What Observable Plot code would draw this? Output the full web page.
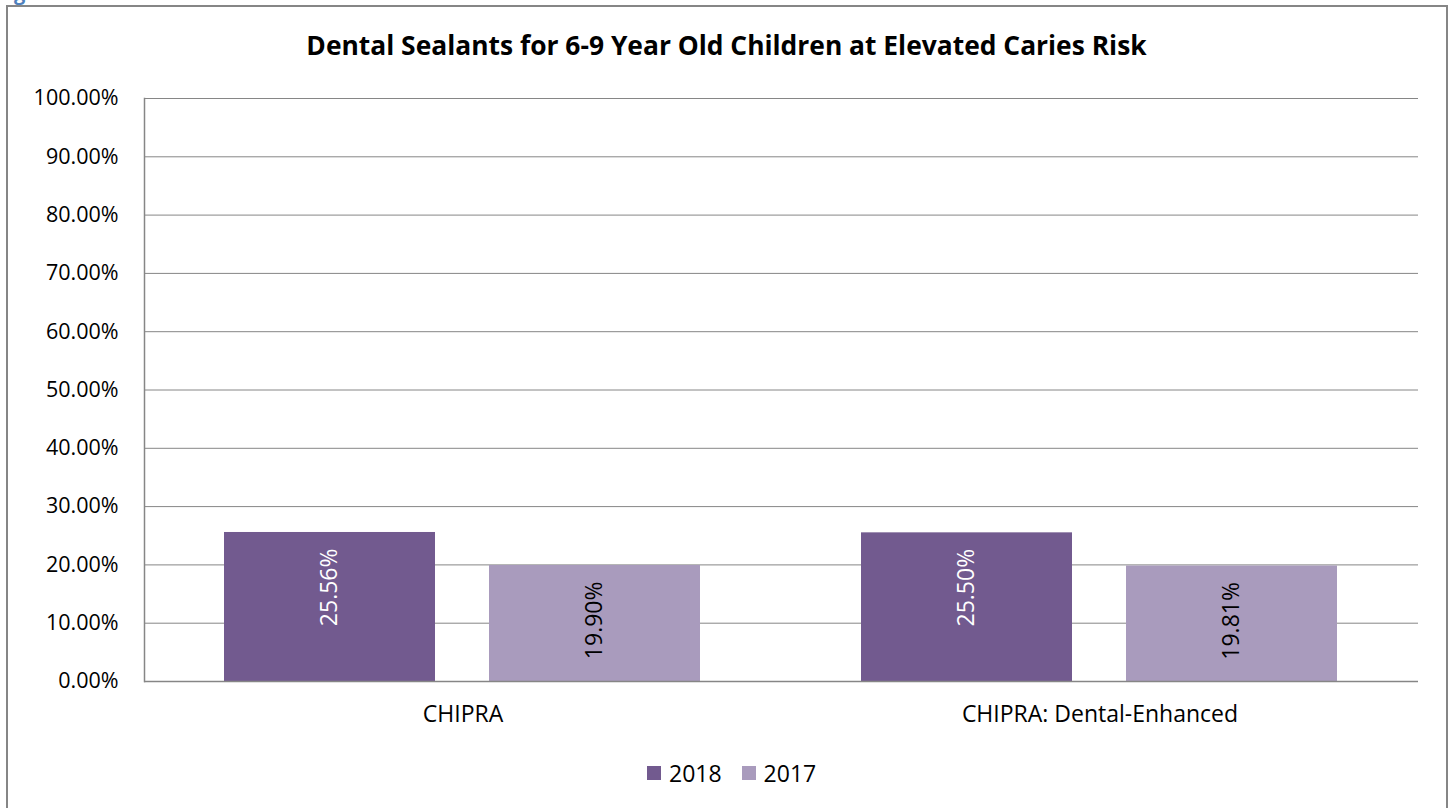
<!DOCTYPE html>
<html><head><meta charset="utf-8">
<script src="https://cdn.jsdelivr.net/npm/d3@7"></script>
<script src="https://cdn.jsdelivr.net/npm/@observablehq/plot@0.6"></script>
<style>
body{margin:0;width:1453px;height:808px;position:relative;overflow:hidden;background:#fff;font-family:"Open Sans",sans-serif;color:#000;}
#frame{position:absolute;left:6px;top:5px;width:1442px;height:830px;box-sizing:border-box;border:2px solid #868686;}
#frag{position:absolute;left:14px;top:-19px;color:#4f81bd;font-weight:bold;font-size:20px;line-height:24px;}
#title{position:absolute;left:0;top:28px;width:1453px;text-align:center;font-weight:bold;font-size:26.4px;line-height:34px;}
#chart{position:absolute;left:0;top:80px;}
#legend{position:absolute;left:647px;top:757px;height:32px;display:flex;align-items:center;font-size:23px;}
#legend .sw{width:14px;height:14px;display:inline-block;margin-right:8px;}
#legend .item{display:flex;align-items:center;margin-right:20px;}
</style></head>
<body>
<div id="frag">g</div>
<div id="frame"></div>
<div id="title">Dental Sealants for 6-9 Year Old Children at Elevated Caries Risk</div>
<div id="chart"></div>
<div id="legend"></div>
<script>
const categories = ["CHIPRA", "CHIPRA: Dental-Enhanced"];
const years = ["2018", "2017"];
const values2018 = [0.2556, 0.2550];
const values2017 = [0.1990, 0.1981];
const colors = ["#725a8f", "#a99bbd"];
const yTicks = [0, 0.1, 0.2, 0.3, 0.4, 0.5, 0.6, 0.7, 0.8, 0.9, 1.0];

const data = [];
categories.forEach((c, i) => {
  data.push({category: c, year: "2018", value: values2018[i]});
  data.push({category: c, year: "2017", value: values2017[i]});
});
const pct = d3.format(".2%");
const grey = "#868686";

const chart = Plot.plot({
  width: 1453, height: 661,
  marginTop: 18, marginLeft: 143, marginRight: 35, marginBottom: 60,
  style: {fontFamily: "Open Sans", color: "#000", background: "transparent"},
  fx: {domain: categories, padding: 0, label: null},
  x: {domain: years, axis: null, paddingInner: 0.203, paddingOuter: 0.3},
  y: {domain: [0, 1], axis: null},
  color: {domain: years, range: colors},
  marks: [
    Plot.gridY(yTicks, {stroke: grey, strokeOpacity: 1, strokeWidth: 1}),
    Plot.barY(data, {fx: "category", x: "year", y: "value", fill: "year"}),
    Plot.ruleY([0], {stroke: grey, strokeWidth: 1.5}),
    Plot.frame({anchor: "left", stroke: grey, strokeWidth: 1.5, facetAnchor: "left"}),
    Plot.axisY(yTicks, {tickSize: 0, tickPadding: 26, tickFormat: pct, fontSize: 21.5, label: null}),
    Plot.axisFx({anchor: "bottom", tickSize: 0, tickPadding: 24, fontSize: 23, label: null}),
    Plot.text(data, {filter: d => d.year === "2018", fx: "category", x: "year", y: "value",
      text: d => pct(d.value), rotate: -90, textAnchor: "end", dy: 16, fill: "#fff", fontSize: 23}),
    Plot.text(data, {filter: d => d.year === "2017", fx: "category", x: "year", y: "value",
      text: d => pct(d.value), rotate: -90, textAnchor: "end", dy: 16, fill: "#000", fontSize: 23})
  ]
});
document.getElementById("chart").appendChild(chart);

const legend = document.getElementById("legend");
years.forEach((y, i) => {
  const item = document.createElement("span");
  item.className = "item";
  const sw = document.createElement("span");
  sw.className = "sw";
  sw.style.background = colors[i];
  const t = document.createElement("span");
  t.textContent = y;
  item.appendChild(sw); item.appendChild(t);
  legend.appendChild(item);
});
</script>
</body></html>
